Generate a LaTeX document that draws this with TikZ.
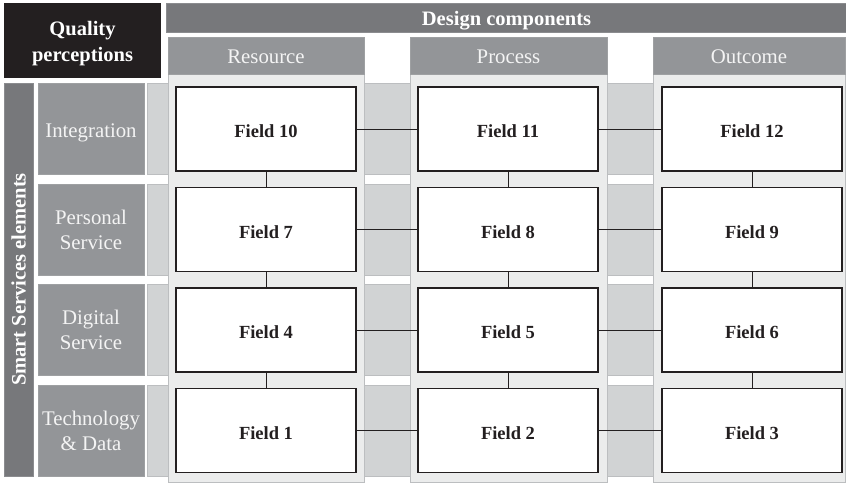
\documentclass[tikz,border=0pt]{standalone}
\usepackage{fontspec}
\setmainfont{Liberation Serif}
\definecolor{qblack}{HTML}{231F20}
\definecolor{darkgrey}{HTML}{77787B}
\definecolor{midgrey}{HTML}{939598}
\definecolor{bandgrey}{HTML}{D1D3D4}
\definecolor{bandedge}{HTML}{BCBEC0}
\definecolor{colbody}{HTML}{EBECEC}
\definecolor{coledge}{HTML}{BCBEC0}
\definecolor{paletext}{HTML}{F4F4F4}
\tikzset{
  panel/.style={anchor=north west, inner sep=0pt, outer sep=0pt},
  boldtext/.style={font=\fontsize{20.5}{26.5}\selectfont\bfseries},
  plaintext/.style={font=\fontsize{20.8}{25}\selectfont},
  titlebox/.style={panel, fill=qblack},
  barbox/.style={panel, fill=darkgrey, draw=darkgrey!85!white, line width=0.6pt, text=white, boldtext},
  headbox/.style={panel, fill=midgrey, draw=midgrey!90!white, line width=0.6pt, text=paletext, plaintext, text height=16.1pt, text depth=0pt},
  rowlabel/.style={panel, fill=midgrey, draw=midgrey!90!white, line width=0.6pt, text=paletext, plaintext, align=center},
  rowband/.style={panel, fill=bandgrey, draw=bandedge, line width=0.8pt},
  colback/.style={panel, fill=colbody, draw=coledge, line width=0.8pt},
  fieldbox/.style={panel, fill=white, draw=qblack, line width=1.1pt, minimum width=180pt, minimum height=84pt, text=qblack, font=\fontsize{18.5}{22}\selectfont\bfseries, text height=17.8pt, text depth=0pt},
  link/.style={draw=qblack, line width=0.9pt}
}
\begin{document}
\begin{tikzpicture}[x=1pt, y=-1pt]
\useasboundingbox (0,0) rectangle (846,482);

% header blocks
\node[titlebox, minimum width=157pt, minimum height=75pt] (quality) at (4,3) {};
\node[text=white, boldtext, align=center, yshift=-3pt] (qualitytxt) at (quality.center) {Quality\\perceptions};
\node[barbox, minimum width=680pt, minimum height=29pt, text height=15pt, text depth=0pt] (design) at (166.5,3) {Design components};

% row bands running behind the columns
\foreach \nm/\top in {bandA/83, bandB/184, bandC/284, bandD/385}
  \node[rowband, minimum width=698pt, minimum height=91pt] (\nm) at (147,\top) {};

% column bodies and their headers
\node[colback, minimum width=196pt, minimum height=445pt] (colR) at (168,37) {};
\node[colback, minimum width=197pt, minimum height=445pt] (colP) at (410,37) {};
\node[colback, minimum width=192pt, minimum height=445pt] (colO) at (653,37) {};
\node[headbox, minimum width=196pt, minimum height=37pt] (hR) at (168,37) {Resource};
\node[headbox, minimum width=197pt, minimum height=37pt] (hP) at (410,37) {Process};
\node[headbox, minimum width=192pt, minimum height=37pt] (hO) at (653,37) {Outcome};

% vertical title bar
\node[barbox, minimum width=29pt, minimum height=393pt] (smart) at (4,83) {};
\node[rotate=90, text=white, boldtext] (smarttxt) at (smart.center) {Smart Services elements};

% row labels
\node[rowlabel, minimum width=106pt, minimum height=91pt, text height=17.3pt, text depth=0pt] (lInt) at (38,83) {Integration};
\node[rowlabel, minimum width=106pt, minimum height=91pt] (lPer) at (38,184) {Personal\\Service};
\node[rowlabel, minimum width=106pt, minimum height=91pt] (lDig) at (38,284) {Digital\\Service};
\node[rowlabel, minimum width=106pt, minimum height=91pt] (lTec) at (38,385) {Technology\\\& Data};

% fields
\node[fieldbox] (f10) at (176,87) {Field 10};
\node[fieldbox] (f11) at (418,87) {Field 11};
\node[fieldbox] (f12) at (662,87) {Field 12};
\node[fieldbox] (f7) at (176,187.5) {Field 7};
\node[fieldbox] (f8) at (418,187.5) {Field 8};
\node[fieldbox] (f9) at (662,187.5) {Field 9};
\node[fieldbox] (f4) at (176,288) {Field 4};
\node[fieldbox] (f5) at (418,288) {Field 5};
\node[fieldbox] (f6) at (662,288) {Field 6};
\node[fieldbox] (f1) at (176,388.5) {Field 1};
\node[fieldbox] (f2) at (418,388.5) {Field 2};
\node[fieldbox] (f3) at (662,388.5) {Field 3};

% horizontal links
\foreach \a/\b in {f10/f11, f11/f12, f7/f8, f8/f9, f4/f5, f5/f6, f1/f2, f2/f3}
  \draw[link] (\a.east) -- (\b.west);
% vertical links
\foreach \a/\b in {f10/f7, f7/f4, f4/f1, f11/f8, f8/f5, f5/f2, f12/f9, f9/f6, f6/f3}
  \draw[link] (\a.south) -- (\b.north);
\end{tikzpicture}
\end{document}
